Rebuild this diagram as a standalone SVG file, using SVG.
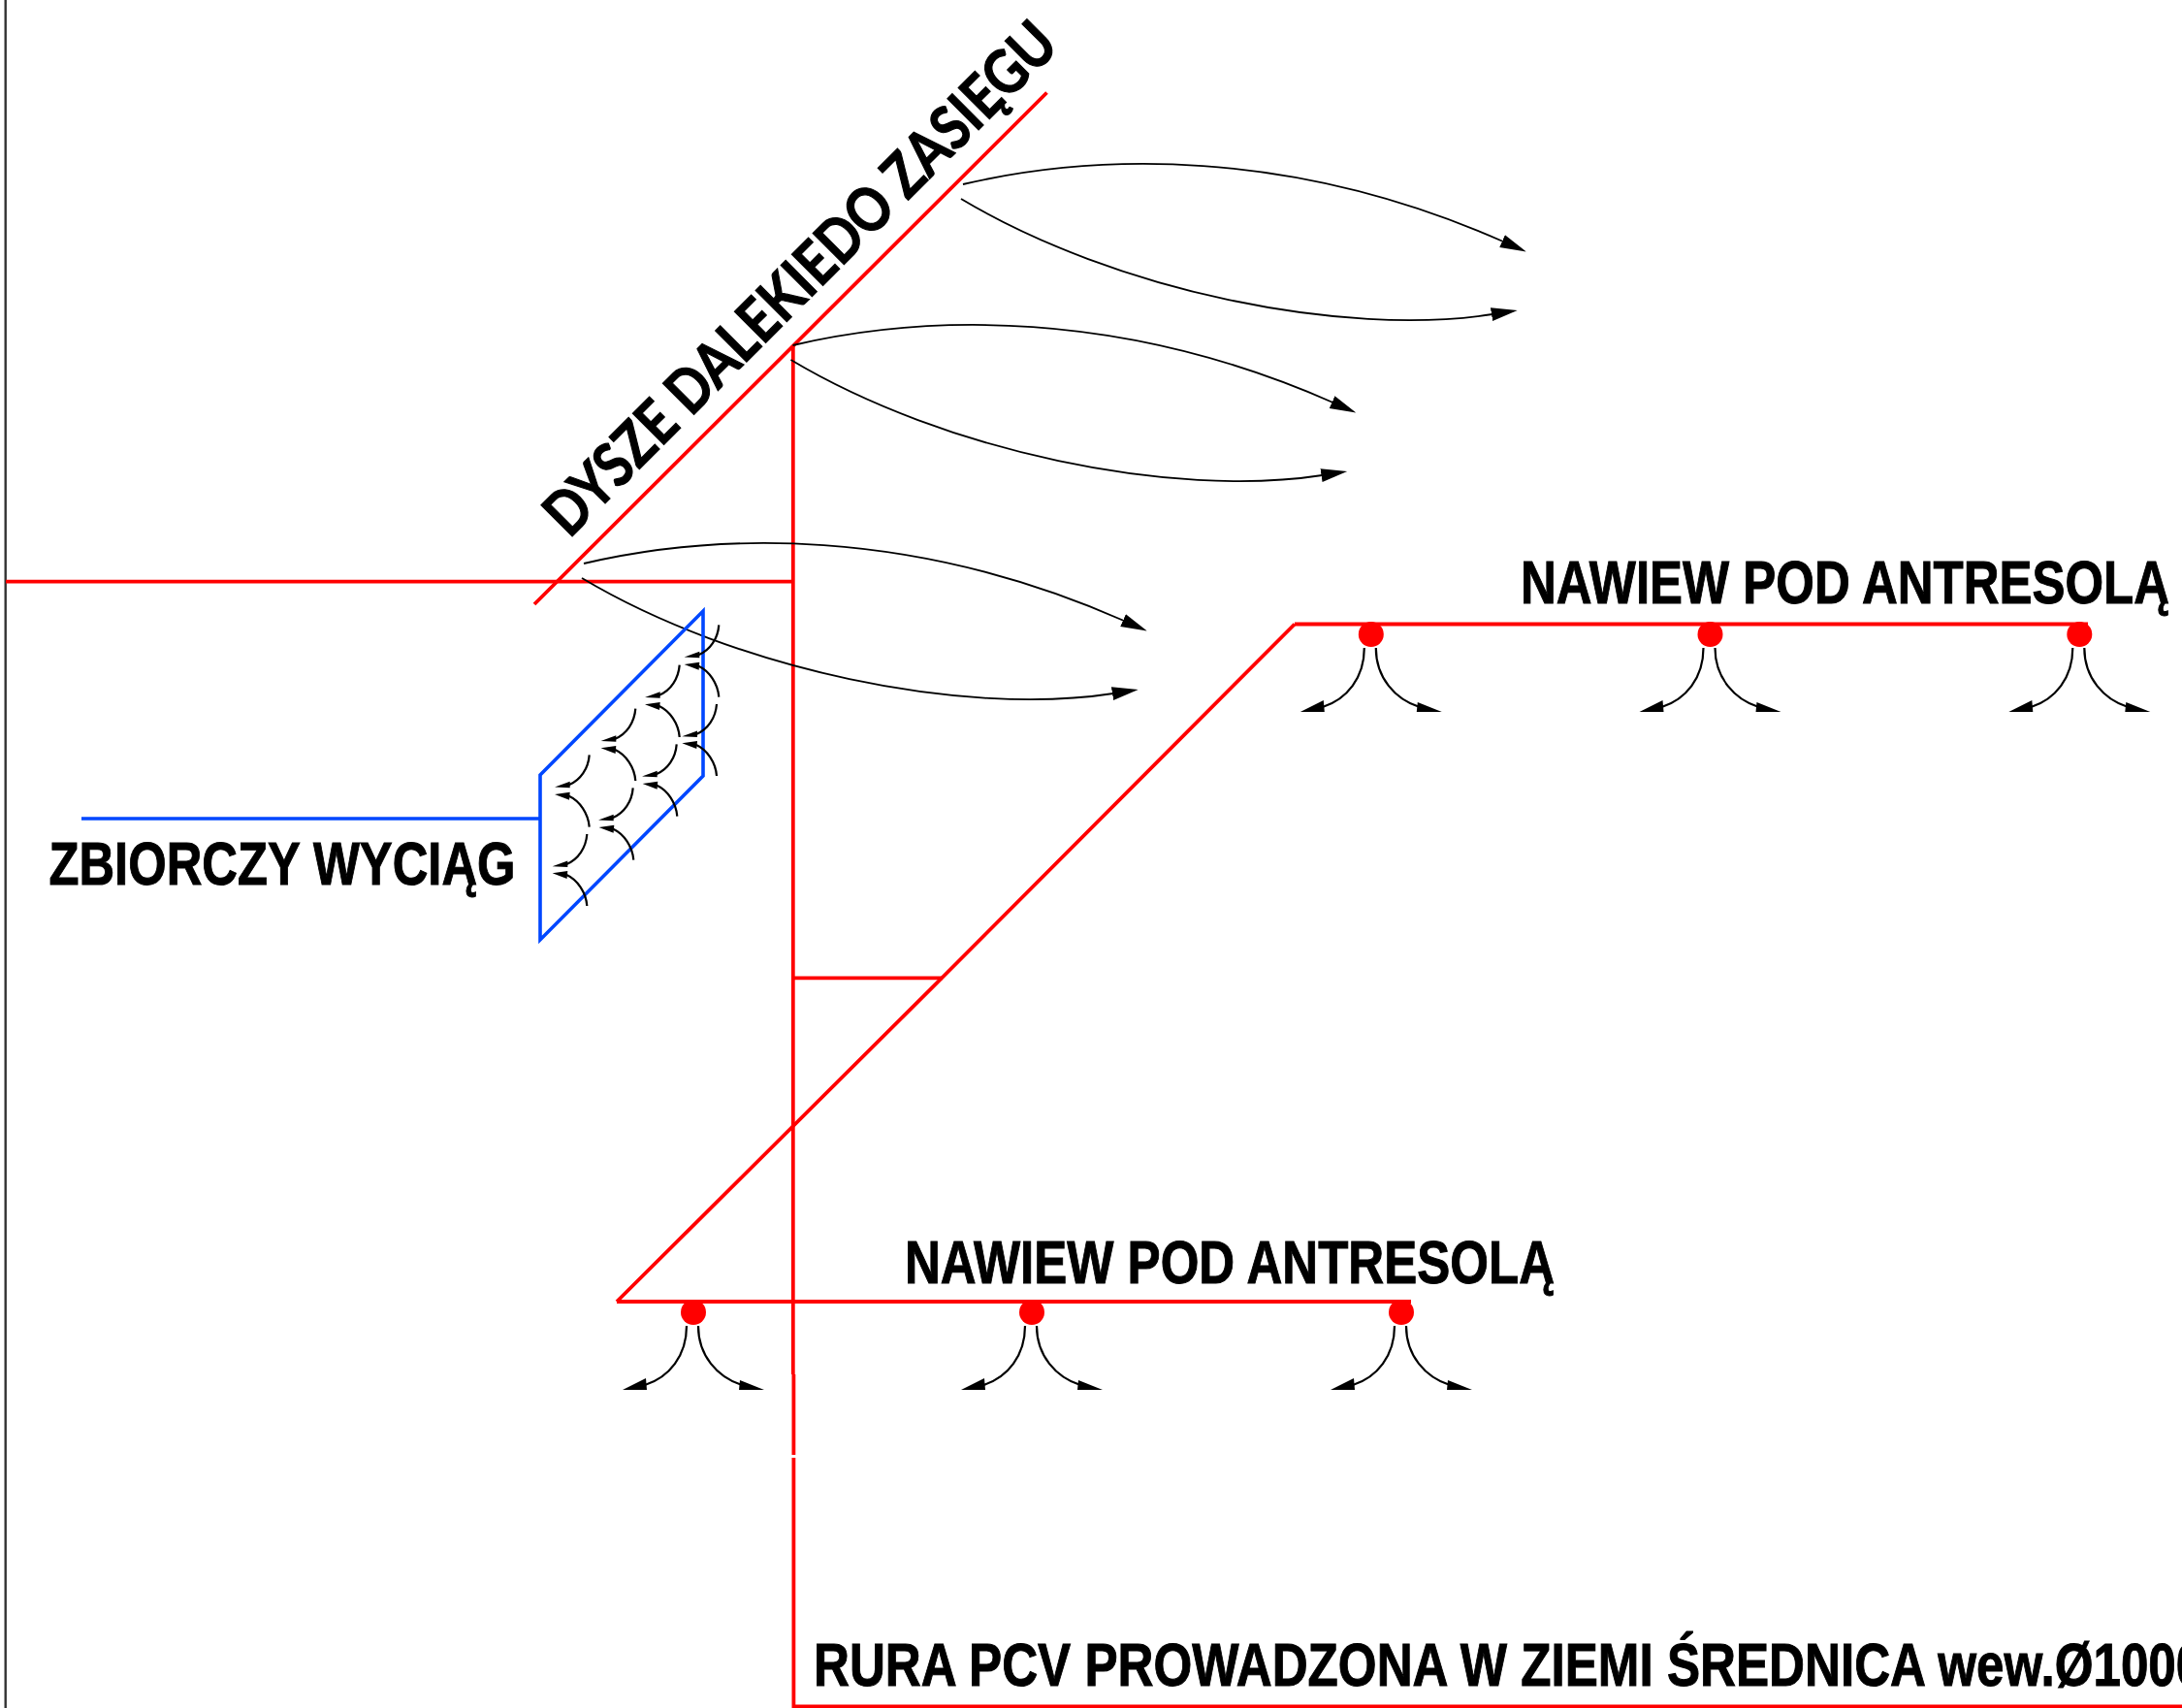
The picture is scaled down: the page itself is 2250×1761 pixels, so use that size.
<svg xmlns="http://www.w3.org/2000/svg" xmlns:xlink="http://www.w3.org/1999/xlink" width="2250" height="1761" viewBox="0 0 2250 1761">
<style>
.red{fill:none;stroke:#f00;stroke-width:3.8}
.blue{fill:none;stroke:#0047ff;stroke-width:3.6}
.thin{fill:none;stroke:#000;stroke-width:1.8}
.thick{fill:none;stroke:#000;stroke-width:2.2}
.head{fill:#000;stroke:none}
.dot{fill:#f00}
.lbl{font-family:"Liberation Sans",Arial,sans-serif;font-weight:700;font-size:63px;fill:#000;stroke:#000;stroke-width:1}
.rot{font-family:Lato,"Liberation Sans",sans-serif;font-weight:700;font-size:63px;fill:#000;stroke:#000;stroke-width:1.2}
</style>
<defs>
<marker id="ah" markerUnits="userSpaceOnUse" markerWidth="32" markerHeight="18" refX="1" refY="7" orient="auto"><path d="M0,0 L27,7 L0,14 Z" fill="#000"/></marker>
<g id="jet">
<path class="thin" marker-end="url(#ah)" d="M993,190 C1130,158 1330,152 1550,249"/>
<path class="thin" marker-end="url(#ah)" d="M991,205 C1150,300 1385,348 1539,324"/>
</g>
<g id="fan">
<path class="thick" d="M-7,14 C-7,45 -25,67 -50,75"/>
<path class="thick" d="M5,14 C5,45 25,67 50,75"/>
<polygon class="head" points="-73,80 -49,68 -48,80"/>
<polygon class="head" points="73,80 48,70 47,80"/>
</g>
<g id="up">
<path class="thick" d="M0,0 C-1,-14 -10,-27 -21,-32"/>
<polygon class="head" points="-35.7,-33.7 -20,-36 -20.7,-28"/>
</g>
<g id="dn">
<path class="thick" d="M0,0 C-1,14 -9,26 -21,31"/>
<polygon class="head" points="-35.7,33.3 -20,27.5 -20,34"/>
</g>
</defs>
<rect width="2250" height="1761" fill="#fff"/>
<line x1="5.7" y1="0" x2="5.7" y2="1761" stroke="#333" stroke-width="2.4"/>
<g id="connectors">
<path class="red" d="M6,599.7 H818.3"/>
<path class="red" d="M551,623 L1079.5,95.5"/>
<path class="red" d="M817.8,356 V1417"/>
<path class="red" d="M818.4,1417 V1500"/>
<path class="red" d="M818.4,1503 V1759.5 H2250"/>
<path class="red" d="M818.3,1008.3 H972"/>
<path class="red" d="M1335,643.5 L972,1007.5 L636,1342"/>
<path class="red" d="M1335,643.5 H2153"/>
<path class="red" d="M636,1342 H1455"/>
<path class="blue" d="M84,844 H557"/>
</g>
<g id="dysze">
<text class="rot" transform="translate(587,556) rotate(-45)" textLength="717" lengthAdjust="spacingAndGlyphs">DYSZE DALEKIEDO ZASIĘGU</text>
<use href="#jet"/>
<use href="#jet" transform="translate(-175.5,166)"/>
<use href="#jet" transform="translate(-391,391)"/>
</g>
<g id="wyciag">
<polygon class="blue" points="557,799 725,630 725,800 557,969"/>
<text class="lbl" x="50.5" y="911.7" textLength="481" lengthAdjust="spacingAndGlyphs">ZBIORCZY WYCIĄG</text>
<use href="#up" x="605.3" y="934"/><use href="#up" x="653.3" y="886.7"/><use href="#up" x="698.3" y="841.7"/><use href="#up" x="739" y="800"/>
<use href="#up" x="607.7" y="852.7"/><use href="#up" x="655.3" y="805"/><use href="#up" x="700.7" y="760"/><use href="#up" x="741.3" y="718.7"/>
<use href="#dn" x="605.3" y="860"/><use href="#dn" x="652.7" y="812.3"/><use href="#dn" x="697.7" y="767.3"/><use href="#dn" x="739" y="726"/>
<use href="#dn" x="607.7" y="778.3"/><use href="#dn" x="655.3" y="730.7"/><use href="#dn" x="700.7" y="685.7"/><use href="#dn" x="741.3" y="644.3"/>
</g>
<g id="nawiew-gora">
<text class="lbl" x="1568" y="622.3" textLength="669" lengthAdjust="spacingAndGlyphs">NAWIEW POD ANTRESOLĄ</text>
<circle class="dot" cx="1413.8" cy="654" r="13"/><use href="#fan" x="1413.8" y="654"/>
<circle class="dot" cx="1763.5" cy="654" r="13"/><use href="#fan" x="1763.5" y="654"/>
<circle class="dot" cx="2144.3" cy="654" r="13"/><use href="#fan" x="2144.3" y="654"/>
</g>
<g id="nawiew-dol">
<text class="lbl" x="933" y="1323" textLength="670" lengthAdjust="spacingAndGlyphs">NAWIEW POD ANTRESOLĄ</text>
<circle class="dot" cx="715" cy="1353" r="13"/><use href="#fan" x="715" y="1353"/>
<circle class="dot" cx="1064" cy="1353" r="13"/><use href="#fan" x="1064" y="1353"/>
<circle class="dot" cx="1445" cy="1353" r="13"/><use href="#fan" x="1445" y="1353"/>
</g>
<g id="rura">
<text class="lbl" transform="translate(839,1737.5) scale(.812,1)">RURA PCV PROWADZONA W ZIEMI ŚREDNICA wew.Ø1000</text>
</g>
</svg>
